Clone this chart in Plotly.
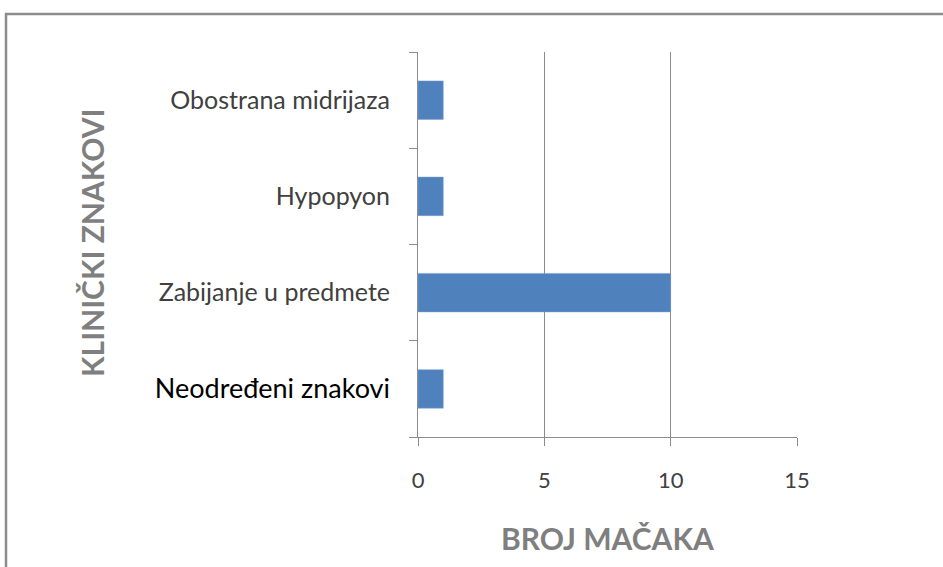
import plotly.graph_objects as go

categories = ["Neodređeni znakovi", "Zabijanje u predmete", "Hypopyon", "Obostrana midrijaza"]
values = [1, 10, 1, 1]
x_ticks = [0, 5, 10, 15]
x_title = "BROJ MAČAKA"
y_title = "KLINIČKI ZNAKOVI"

W, H = 943, 567
L, T = 418, 52
pw, ph = 379, 385
R, B = W - L - pw, H - T - ph

def px_to_paper_x(px):
    return (px - L) / pw

def px_to_paper_y(py):
    return (T + ph - py) / ph

ticktext = ['<span style="color:#000000;font-size:27px">' + categories[0] + '</span>'] + categories[1:]

fig = go.Figure(go.Bar(
    x=values, y=categories, orientation="h",
    marker=dict(color="#4F81BD", line=dict(color="#7a9fd0", width=0.5)),
    width=0.4, hoverinfo="skip",
))

fig.update_layout(
    width=W, height=H,
    margin=dict(l=L, r=R, t=T, b=B),
    paper_bgcolor="white", plot_bgcolor="white",
    showlegend=False,
    font=dict(family="Lato, Open Sans, sans-serif", color="#404040"),
    xaxis=dict(
        range=[0, 15], tickvals=x_ticks, ticktext=[str(v) for v in x_ticks],
        showgrid=True, gridcolor="#8c8c8c", gridwidth=1,
        showline=True, linecolor="#8c8c8c", linewidth=1,
        ticks="outside", ticklen=8, tickcolor="#8c8c8c",
        tickfont=dict(size=22, color="#404040"),
        ticklabelstandoff=16, zeroline=False, fixedrange=True,
    ),
    yaxis=dict(
        type="category", categoryorder="array", categoryarray=categories,
        tickvals=categories, ticktext=ticktext,
        tickson="boundaries", showgrid=False,
        showline=True, linecolor="#8c8c8c", linewidth=1,
        ticks="outside", ticklen=8, tickcolor="#8c8c8c",
        tickfont=dict(size=25, color="#404040"),
        ticklabelstandoff=22, range=[-0.5, 3.5], fixedrange=True,
    ),
    annotations=[
        dict(text="<b>" + x_title + "</b>", xref="paper", yref="paper",
             x=px_to_paper_x(607), y=px_to_paper_y(538), xanchor="center", yanchor="middle",
             showarrow=False, font=dict(size=30, color="#7f7f7f")),
        dict(text="<b>" + y_title + "</b>", xref="paper", yref="paper",
             x=px_to_paper_x(92), y=px_to_paper_y(243), xanchor="center", yanchor="middle",
             textangle=-90, showarrow=False, font=dict(size=30, color="#7f7f7f")),
    ],
    shapes=[
        dict(type="rect", xref="paper", yref="paper",
             x0=px_to_paper_x(6), y0=px_to_paper_y(600), x1=px_to_paper_x(960), y1=px_to_paper_y(14),
             line=dict(color="#8c8c8c", width=2.5), fillcolor="rgba(0,0,0,0)", layer="below"),
    ],
)

fig.write_html("out.html", config={"displayModeBar": False},
               post_script="document.body.style.margin='0';document.body.style.overflow='hidden';")
